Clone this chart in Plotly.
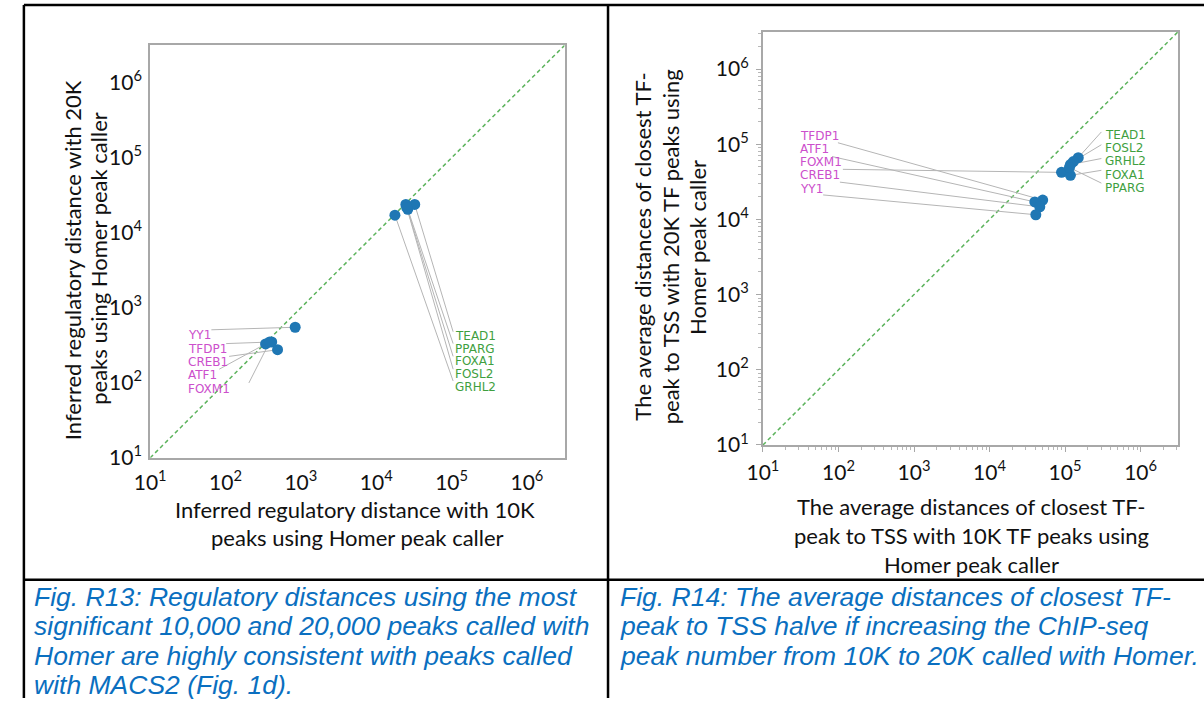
import plotly.graph_objects as go

W, H = 1204, 709

# ---- Fig. R13: inferred regulatory distance (bp), 10K vs 20K Homer peaks ----
r13_tf = ["YY1", "TFDP1", "CREB1", "ATF1", "FOXM1",
          "TEAD1", "PPARG", "FOXA1", "FOSL2", "GRHL2"]
r13_dist_10k = [840, 410, 490, 340, 385, 32400, 26200, 24700, 25400, 17700]
r13_dist_20k = [550, 350, 276, 330, 350, 23900, 20600, 23900, 21800, 17200]
r13_group = ["m", "m", "m", "m", "m", "g", "g", "g", "g", "g"]

# ---- Fig. R14: average distance of closest TF peak to TSS (bp) ----
r14_tf = ["TFDP1", "ATF1", "FOXM1", "CREB1", "YY1",
          "TEAD1", "FOSL2", "GRHL2", "FOXA1", "PPARG"]
r14_dist_10k = [50600, 39800, 89800, 46300, 41000,
                149600, 128800, 117700, 117700, 114300]
r14_dist_20k = [18100, 17100, 42300, 14700, 11550,
                66400, 58900, 53700, 38600, 49100]
r14_group = ["m", "m", "m", "m", "m", "g", "g", "g", "g", "g"]

tick_vals = [10, 100, 1000, 10000, 100000, 1000000]
tick_text = ["10<sup>%d</sup>" % k for k in range(1, 7)]
log_range = [1, 6.5]

# axes frames in pixels: left, right, top, bottom
frame_l = (136, 556, 46, 465)
frame_r = (757, 1178, 32, 452)

# label placement in pixels: (text left x, text centre y, connector tail x, tail y)
lab_r13 = {
    "YY1":   (172, 340, 198, 335),
    "TFDP1": (172, 354, 213, 349),
    "CREB1": (172, 368, 216, 362),
    "ATF1":  (172, 381, 206, 375),
    "FOXM1": (172, 395, 236, 389),
    "TEAD1": (443, 341, 443, 337),
    "PPARG": (443, 354, 443, 349),
    "FOXA1": (443, 367, 443, 362),
    "FOSL2": (443, 380, 443, 375),
    "GRHL2": (443, 393, 443, 387),
}
lab_r14 = {
    "TFDP1": (793, 138, 833, 145),
    "ATF1":  (793, 151, 827, 159),
    "FOXM1": (793, 165, 838, 172),
    "CREB1": (793, 178, 835, 185),
    "YY1":   (793, 192, 818, 198),
    "TEAD1": (1102, 137, 1100, 134),
    "FOSL2": (1102, 150, 1100, 147),
    "GRHL2": (1102, 164, 1100, 161),
    "FOXA1": (1102, 178, 1100, 173),
    "PPARG": (1102, 191, 1100, 186),
}

COL = {"m": "#cc4fcc", "g": "#3f9f3f"}
DOT = "#1f77b4"
LINK = "#b5b5b5"
DIAG = "#5cb35c"
TXT_FONT = "Lato"
LAB_FONT = "DejaVu Sans"


def px_to_val(px, py, frame):
    l, r, t, b = frame
    span = log_range[1] - log_range[0]
    lx = log_range[0] + (px - l) / (r - l) * span
    ly = log_range[0] + (b - py) / (b - t) * span
    return 10 ** lx, 10 ** ly


fig = go.Figure()
annotations = []


def add_panel(names, xs, ys, groups, labels, frame, xa, ya):
    # diagonal y = x
    fig.add_trace(go.Scatter(x=[10 ** log_range[0], 10 ** log_range[1]],
                             y=[10 ** log_range[0], 10 ** log_range[1]],
                             mode="lines", xaxis=xa, yaxis=ya,
                             line=dict(color=DIAG, width=1.5, dash="4px,3px"),
                             showlegend=False, hoverinfo="skip"))
    # connectors from labels to points
    lx, ly = [], []
    for n, x, y in zip(names, xs, ys):
        tx, ty = px_to_val(labels[n][2], labels[n][3], frame)
        lx += [tx, x, None]
        ly += [ty, y, None]
    fig.add_trace(go.Scatter(x=lx, y=ly, mode="lines", xaxis=xa, yaxis=ya,
                             line=dict(color=LINK, width=1),
                             showlegend=False, hoverinfo="skip"))
    fig.add_trace(go.Scatter(x=xs, y=ys, mode="markers", xaxis=xa, yaxis=ya,
                             text=names,
                             marker=dict(color=DOT, size=11, line=dict(width=0)),
                             showlegend=False))
    for n, g in zip(names, groups):
        px, py = labels[n][0], labels[n][1]
        annotations.append(dict(text=n, x=px / W, y=1 - py / H,
                                xref="paper", yref="paper",
                                xanchor="left", yanchor="middle",
                                showarrow=False,
                                font=dict(family=LAB_FONT, size=12, color=COL[g])))


add_panel(r13_tf, r13_dist_10k, r13_dist_20k, r13_group, lab_r13, frame_l, "x", "y")
add_panel(r14_tf, r14_dist_10k, r14_dist_20k, r14_group, lab_r14, frame_r, "x2", "y2")


def text_at(s, px, py, size=22, angle=0, family=TXT_FONT, color="#111111",
            italic=False, anchor="center"):
    annotations.append(dict(text=s, x=px / W, y=1 - py / H,
                            xref="paper", yref="paper",
                            xanchor=anchor, yanchor="middle",
                            textangle=angle, showarrow=False,
                            font=dict(family=family, size=size, color=color,
                                      style="italic" if italic else "normal")))


# axis titles
text_at("Inferred regulatory distance with 10K", 344, 518)
text_at("peaks using Homer peak caller", 346, 546)
text_at("Inferred regulatory distance with 20K", 58, 264, angle=-90)
text_at("peaks using Homer peak caller", 84, 262, angle=-90)

text_at("The average distances of closest TF-", 968, 514)
text_at("peak to TSS with 10K TF peaks using", 968, 544)
text_at("Homer peak caller", 968, 573)
text_at("The average distances of closest TF-", 635, 251, angle=-90)
text_at("peak to TSS with 20K TF peaks using", 663, 251, angle=-90)
text_at("Homer peak caller", 690, 251, angle=-90)

# captions
CAP = "#0a6fc0"
cap_l = ["Fig. R13: Regulatory distances using the most",
         "significant 10,000 and 20,000 peaks called with",
         "Homer are highly consistent with peaks called",
         "with MACS2 (Fig. 1d)."]
cap_r = ["Fig. R14: The average distances of closest TF-",
         "peak to TSS halve if increasing the ChIP-seq",
         "peak number from 10K to 20K called with Homer."]
for i, s in enumerate(cap_l):
    text_at(s, 16, 606 + 30 * i, size=26.5, family="Liberation Sans",
            color=CAP, italic=True, anchor="left")
for i, s in enumerate(cap_r):
    text_at(s, 610, 606 + 30 * i, size=26.5, family="Liberation Sans",
            color=CAP, italic=True, anchor="left")

# table rules
shapes = []
for x0, y0, x1, y1 in [(8, 5, 1204, 5), (8, 5, 8, 709), (600, 5, 600, 709),
                       (8, 589, 1204, 589)]:
    shapes.append(dict(type="line", xref="paper", yref="paper",
                       x0=x0 / W, x1=x1 / W, y0=1 - y0 / H, y1=1 - y1 / H,
                       line=dict(color="black", width=2.5)))


def axis(frame, horizontal, with_ticks, anchor):
    l, r, t, b = frame
    dom = [l / W, r / W] if horizontal else [1 - b / H, 1 - t / H]
    ax = dict(type="log", range=log_range, domain=dom, anchor=anchor,
              tickvals=tick_vals, ticktext=tick_text,
              tickfont=dict(family=TXT_FONT, size=21, color="#111111"),
              showgrid=False, zeroline=False,
              showline=True, mirror=True, linecolor="#a8a8a8", linewidth=2)
    if with_ticks:
        ax.update(ticks="outside", ticklen=5, tickwidth=1, tickcolor="#a8a8a8",
                  minor=dict(ticks="outside", ticklen=3, tickwidth=1,
                             tickcolor="#b8b8b8", dtick="D1", showgrid=False))
        ax.update(ticklabelstandoff=3)
    else:
        ax.update(ticks="", ticklabelstandoff=5 if horizontal else 2)
    return ax


fig.update_layout(
    width=W, height=H, margin=dict(l=0, r=0, t=0, b=0),
    paper_bgcolor="white", plot_bgcolor="white",
    xaxis=axis(frame_l, True, False, "y"),
    yaxis=axis(frame_l, False, False, "x"),
    xaxis2=axis(frame_r, True, True, "y2"),
    yaxis2=axis(frame_r, False, True, "x2"),
    annotations=annotations, shapes=shapes,
    showlegend=False,
)

fig.write_html("out.html", config={"displayModeBar": False})
